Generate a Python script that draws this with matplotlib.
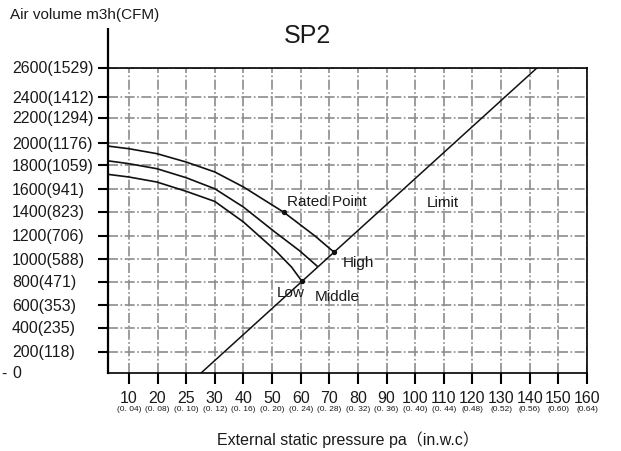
import numpy as np
import matplotlib
matplotlib.use('Agg')
import matplotlib.pyplot as plt

plt.rcParams['font.family'] = ['Liberation Sans', 'Noto Sans CJK SC', 'DejaVu Sans']

# ---------------- data ----------------
pressure_ticks = [10, 20, 25, 30, 40, 50, 60, 70, 80, 90, 100, 110, 120, 130, 140, 150, 160]
inwc_labels = ['(0. 04)', '(0. 08)', '(0. 10)', '(0. 12)', '(0. 16)', '(0. 20)', '(0. 24)',
               '(0. 28)', '(0. 32)', '(0. 36)', '(0. 40)', '(0. 44)', '(0.48)', '(0.52)',
               '(0.56)', '(0.60)', '(0.64)']
airflow_ticks = [0, 200, 400, 600, 800, 1000, 1200, 1400, 1600, 1800, 2000, 2200, 2400, 2600]
airflow_labels = ['0', '200(118)', '400(235)', '600(353)', '800(471)', '1000(588)', '1200(706)',
                  '1400(823)', '1600(941)', '1800(1059)', '2000(1176)', '2200(1294)',
                  '2400(1412)', '2600(1529)']

high_p = [2.7, 10, 19.8, 25, 30, 40, 54.1, 65, 71.7]
high_q = [1972, 1948, 1903, 1827, 1742, 1617, 1398, 1200, 1058]
middle_p = [2.7, 10, 19.8, 25, 30, 40, 51, 59.7, 65.7]
middle_q = [1838, 1812, 1769, 1694, 1602, 1443, 1233, 1070, 939]
low_p = [2.7, 10, 19.8, 25, 30, 40, 51, 56.8, 60.3]
low_q = [1722, 1700, 1658, 1580, 1492, 1317, 1078, 930, 811]
limit_p = [27.6, 142.5]
limit_q = [0, 2600]
rated_index = 6  # rated point on the High curve

# ---------------- scale geometry (as drawn in the original) ----------------
x_anchor_pa = [0] + pressure_ticks
x_anchor_pos = list(range(-1, len(pressure_ticks)))
y_anchor_pos = [0, 21, 45, 68, 91, 114, 137, 161, 184, 208, 230, 255, 276, 305]


def fx(v):
    return np.interp(v, x_anchor_pa, x_anchor_pos)


def fx_inv(v):
    return np.interp(v, x_anchor_pos, x_anchor_pa)


def fy(v):
    return np.interp(v, airflow_ticks, y_anchor_pos)


def fy_inv(v):
    return np.interp(v, y_anchor_pos, airflow_ticks)


W, H = 621, 452
fig = plt.figure(figsize=(W / 100, H / 100), dpi=100)
ax = fig.add_axes([108 / W, 78 / H, 479 / W, 305 / H])
ax.set_xscale('function', functions=(fx, fx_inv))
ax.set_yscale('function', functions=(fy, fy_inv))
ax.set_xlim(2.7, 160)
ax.set_ylim(0, 2600)

txt = '#1a1a1a'
grid_style = dict(color='#8c8c8c', lw=1.2, linestyle=(0, (6, 1.5, 1, 1.5)))
ax.set_axisbelow(True)
ax.set_xticks(pressure_ticks)
ax.set_xticklabels([str(p) for p in pressure_ticks], fontsize=11.5, color=txt)
ax.set_yticks(airflow_ticks[1:])
ax.set_yticklabels([])
ax.grid(True, **grid_style)
ax.tick_params(axis='x', length=8, width=1.5, pad=4.5)
ax.tick_params(axis='y', length=7, width=1.5)

for s in ax.spines.values():
    s.set_linewidth(1.2)
ax.spines['left'].set_linewidth(1.6)
ax.plot([0, 0], [1, 1 + 40 / 305], transform=ax.transAxes, color='k', lw=1.6,
        clip_on=False, solid_capstyle='butt')

# y labels, left aligned
ytrans = ax.get_yaxis_transform()
xl = (12 - 108) / 479
for v, lab in zip(airflow_ticks, airflow_labels):
    ax.text(xl, v, lab, transform=ytrans, ha='left', va='center', fontsize=11.5, color=txt)
ax.text((1 - 108) / 479, airflow_ticks[0], '-', transform=ytrans, ha='left', va='center',
        fontsize=11.5, color=txt)

# in.w.c sub labels
xtrans = ax.get_xaxis_transform()
for p, lab in zip(pressure_ticks, inwc_labels):
    ax.text(p, -0.115, lab, transform=xtrans, ha='center', va='center', fontsize=6,
            color=txt)

# curves
lc = '#111111'
ax.plot(high_p, high_q, color=lc, lw=1.2)
ax.plot(middle_p, middle_q, color=lc, lw=1.2)
ax.plot(low_p, low_q, color=lc, lw=1.2)
ax.plot(limit_p, limit_q, color=lc, lw=1.1)
ax.plot([high_p[-1], low_p[-1], high_p[rated_index]],
        [high_q[-1], low_q[-1], high_q[rated_index]], 'o', color=lc, ms=2.8)

# annotations
ax.text(55.2, 1496, 'Rated Point', fontsize=11, color=txt, ha='left', va='center')
ax.text(104.1, 1487, 'Limit', fontsize=11, color=txt, ha='left', va='center')
ax.text(74.8, 974, 'High', fontsize=11, color=txt, ha='left', va='center')
ax.text(51.5, 713, 'Low', fontsize=11, color=txt, ha='left', va='center')
ax.text(65, 678, 'Middle', fontsize=11, color=txt, ha='left', va='center')

fig.text(307 / W, 1 - 36 / H, 'SP2', fontsize=18, ha='center', va='center', color=txt)
fig.text(10 / W, 1 - 15 / H, 'Air volume m3h(CFM)', fontsize=11, ha='left', va='center',
         color=txt)
fig.text(348 / W, 1 - 440 / H, 'External static pressure pa（in.w.c）', fontsize=11.5,
         ha='center', va='center', color=txt)

fig.savefig('out.png', dpi=100)
